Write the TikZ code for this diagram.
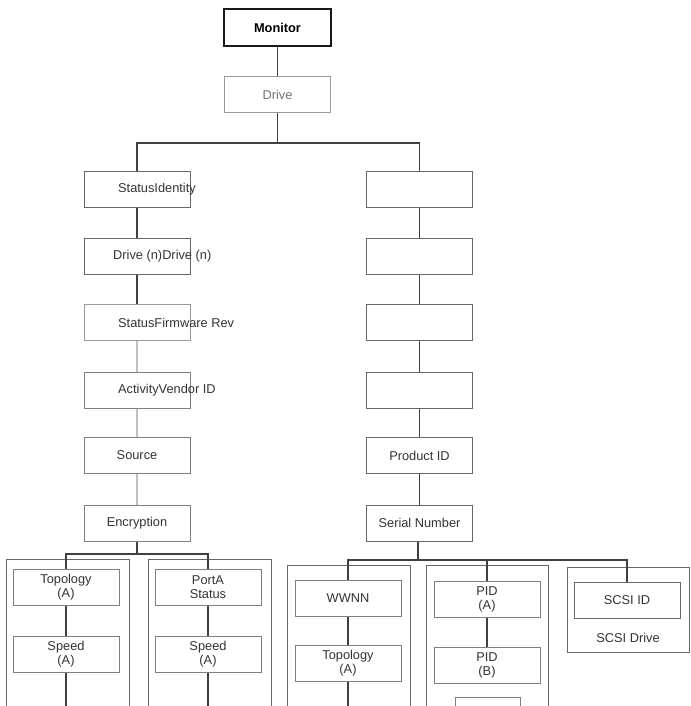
\documentclass[tikz,border=0pt]{standalone}
\usepackage{fontspec}
\setmainfont{Liberation Sans}
\begin{document}
\begin{tikzpicture}[x=1pt,y=-1pt,
  box/.style={draw=black!60, line width=1pt, minimum width=106pt, minimum height=36pt, inner sep=0pt,
    font=\fontsize{12.8}{14}\selectfont, text=black!80, align=center},
  lbox/.style={box, draw=black!40},
  txt/.style={font=\fontsize{12.8}{14}\selectfont, text=black!80, inner sep=0pt},
  con/.style={draw=black!75, line width=1.3pt},
  lcon/.style={draw=black!25, line width=1.3pt},
  cont/.style={draw=black!60, line width=1pt}]
\useasboundingbox (0,0) rectangle (690,706);
\clip (0,0) rectangle (690,706);

% containers
\draw[cont] (6,559) rectangle (129,730);
\draw[cont] (148,559) rectangle (271,730);
\draw[cont] (287,565) rectangle (410,730);
\draw[cont] (426,565) rectangle (548,730);
\draw[cont] (567,567) rectangle (689,652);

% top
\node[box, draw=black!90, line width=1.3pt, minimum width=107pt, minimum height=37pt,
      font=\fontsize{12.8}{14}\selectfont\bfseries, text=black] (mon) at (277.5,27.5) {Monitor};
\node[lbox, text=black!55] (drv) at (277.5,94.5) {Drive};

% left column
\node[box] (si) at (137,189) {};
\node[box] (dn) at (137,256.5) {};
\node[lbox] (sf) at (137,322.5) {};
\node[box, draw=black!50] (av) at (137,390) {};
\node[box, draw=black!50] (src) at (137,455.5) {Source};
\node[box, draw=black!50] (enc) at (137,523) {Encryption};
\node[txt, anchor=west] (sit) at (118,189) {StatusIdentity};
\node[txt, anchor=west] (dnt) at (113,256.5) {Drive (n)Drive (n)};
\node[txt, anchor=west] (sft) at (118,322.5) {StatusFirmware Rev};
\node[txt, anchor=west] (avt) at (118,390) {ActivityVendor ID};

% right column
\node[box] (r1) at (419.5,189) {};
\node[box] (r2) at (419.5,256.5) {};
\node[box] (r3) at (419.5,322.5) {};
\node[box] (r4) at (419.5,390) {};
\node[box] (pid) at (419.5,455.5) {Product ID};
\node[box] (sn) at (419.5,523) {Serial Number};

% bottom boxes
\node[box, draw=black!50] (t1) at (66,587) {Topology\\(A)};
\node[box, draw=black!50] (s1) at (66,654.5) {Speed\\(A)};
\node[box, draw=black!50] (pt) at (208,587) {PortA\\Status};
\node[box, draw=black!50] (s2) at (208,654.5) {Speed\\(A)};
\node[box, draw=black!50] (ww) at (348,598.5) {WWNN};
\node[box, draw=black!50] (t2) at (348,663.5) {Topology\\(A)};
\node[box, draw=black!50] (pa) at (487,599.5) {PID\\(A)};
\node[box, draw=black!50] (pb) at (487,665) {PID\\(B)};
\node[box, draw=black!50, minimum width=65pt, minimum height=30pt] (pc) at (487.5,712) {};
\node[box, draw=black!60] (sc) at (627,600) {SCSI ID};
\node[txt] (scd) at (628,638) {SCSI Drive};

% connectors
\coordinate (j1) at (277.5,143);
\coordinate (j2) at (137,554);
\coordinate (j3) at (418,560);
\coordinate (e1) at (66,720);
\coordinate (e2) at (208,720);
\coordinate (e3) at (348,720);

\draw[con] (mon) -- (drv);
\draw[con] (drv) -- (j1);
\draw[con] (j1) -| (si);
\draw[con] (j1) -| (r1);
\draw[con] (si) -- (dn);
\draw[con] (dn) -- (sf);
\draw[lcon] (sf) -- (av);
\draw[lcon] (av) -- (src);
\draw[lcon] (src) -- (enc);
\draw[con] (r1) -- (r2);
\draw[con] (r2) -- (r3);
\draw[con] (r3) -- (r4);
\draw[con] (r4) -- (pid);
\draw[con] (pid) -- (sn);

\draw[con] (enc) -- (j2);
\draw[con] (j2) -| (t1);
\draw[con] (j2) -| (pt);
\draw[con] (t1) -- (s1);
\draw[con] (s1) -- (e1);
\draw[con] (pt) -- (s2);
\draw[con] (s2) -- (e2);

\draw[con] (sn.south -| j3) -- (j3);
\draw[con] (j3) -| (ww);
\draw[con] (j3) -| (pa);
\draw[con] (j3) -| (sc);
\draw[con] (ww) -- (t2);
\draw[con] (t2) -- (e3);
\draw[con] (pa) -- (pb);
\end{tikzpicture}
\end{document}
